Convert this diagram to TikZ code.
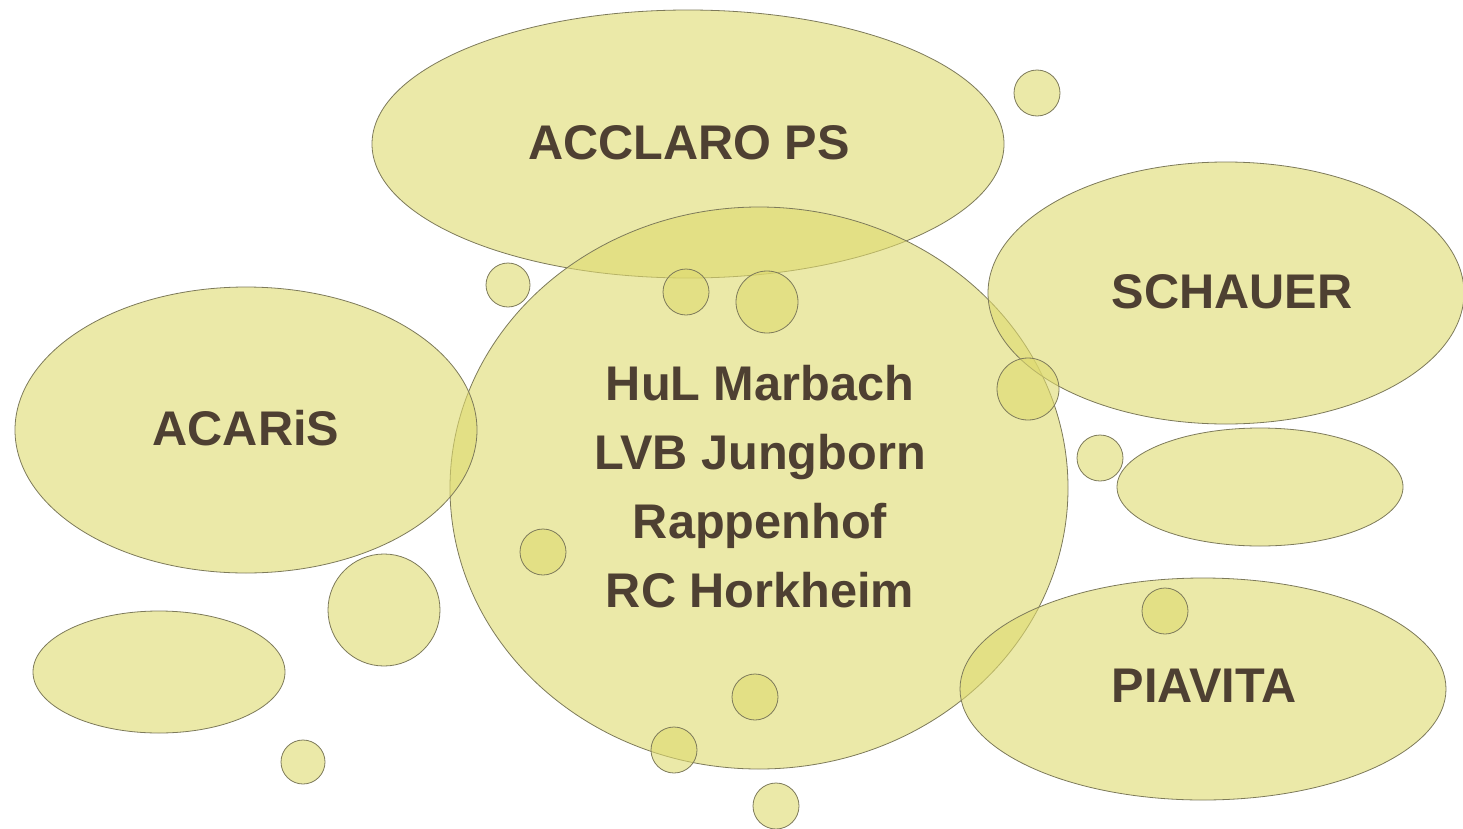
\documentclass[tikz,border=0pt]{standalone}
\usepackage{fontspec}
\setmainfont{Liberation Sans}
\usepackage{tikz}

\definecolor{bubblefill}{RGB}{222,218,110}
\definecolor{bubbleline}{RGB}{125,122,90}
\definecolor{labeltext}{RGB}{78,64,50}

\tikzset{
  bubble/.style={draw=bubbleline, fill=bubblefill, fill opacity=0.6, line width=0.6},
  bubblelabel/.style={text=labeltext, inner sep=0.75pt, font=\fontsize{36.5}{51.75}\selectfont\bfseries},
}

\begin{document}
\begin{tikzpicture}[x=0.75pt,y=0.75pt,yscale=-1,xscale=1]
    \useasboundingbox (0,0) rectangle (1463,828);

    %Shape: Ellipse [ACCLARO PS]
    \draw [bubble] (688,144) ellipse (316 and 134);
    %Shape: Circle [center]
    \draw [bubble] (759,488) ellipse (309 and 281);
    %Shape: Ellipse [SCHAUER]
    \draw [bubble] (1226,293) ellipse (238 and 131);
    %Shape: Ellipse [ACARiS]
    \draw [bubble] (246,430) ellipse (231 and 143);
    %Shape: Ellipse [empty, right]
    \draw [bubble] (1260,487) ellipse (143 and 59);
    %Shape: Ellipse [PIAVITA]
    \draw [bubble] (1203,689) ellipse (243 and 111);
    %Shape: Ellipse [empty, lower left]
    \draw [bubble] (159,672) ellipse (126 and 61);

    %Small circles
    \foreach \cx/\cy/\r in {1037/93/23, 508/285/22, 686/292/23, 767/302/31,
                            1028/389/31, 1100/458/23, 543/552/23, 384/610/56,
                            1165/611/23, 755/697/23, 674/750/23, 303/762/22,
                            776/806/23}
      \draw [bubble] (\cx,\cy) circle (\r);

    % Text Node
    \draw (689,143) node (acclaro) [bubblelabel] {ACCLARO PS};
    % Text Node
    \draw (1232,292) node (schauer) [bubblelabel] {SCHAUER};
    % Text Node
    \draw (246,428) node (acaris) [bubblelabel] {ACARiS};
    % Text Node
    \draw (1204,686) node (piavita) [bubblelabel] {PIAVITA};
    % Text Node
    \draw (760,487) node (members) [bubblelabel, align=center] {HuL Marbach\\LVB Jungborn\\Rappenhof\\RC Horkheim};

\end{tikzpicture}
\end{document}
